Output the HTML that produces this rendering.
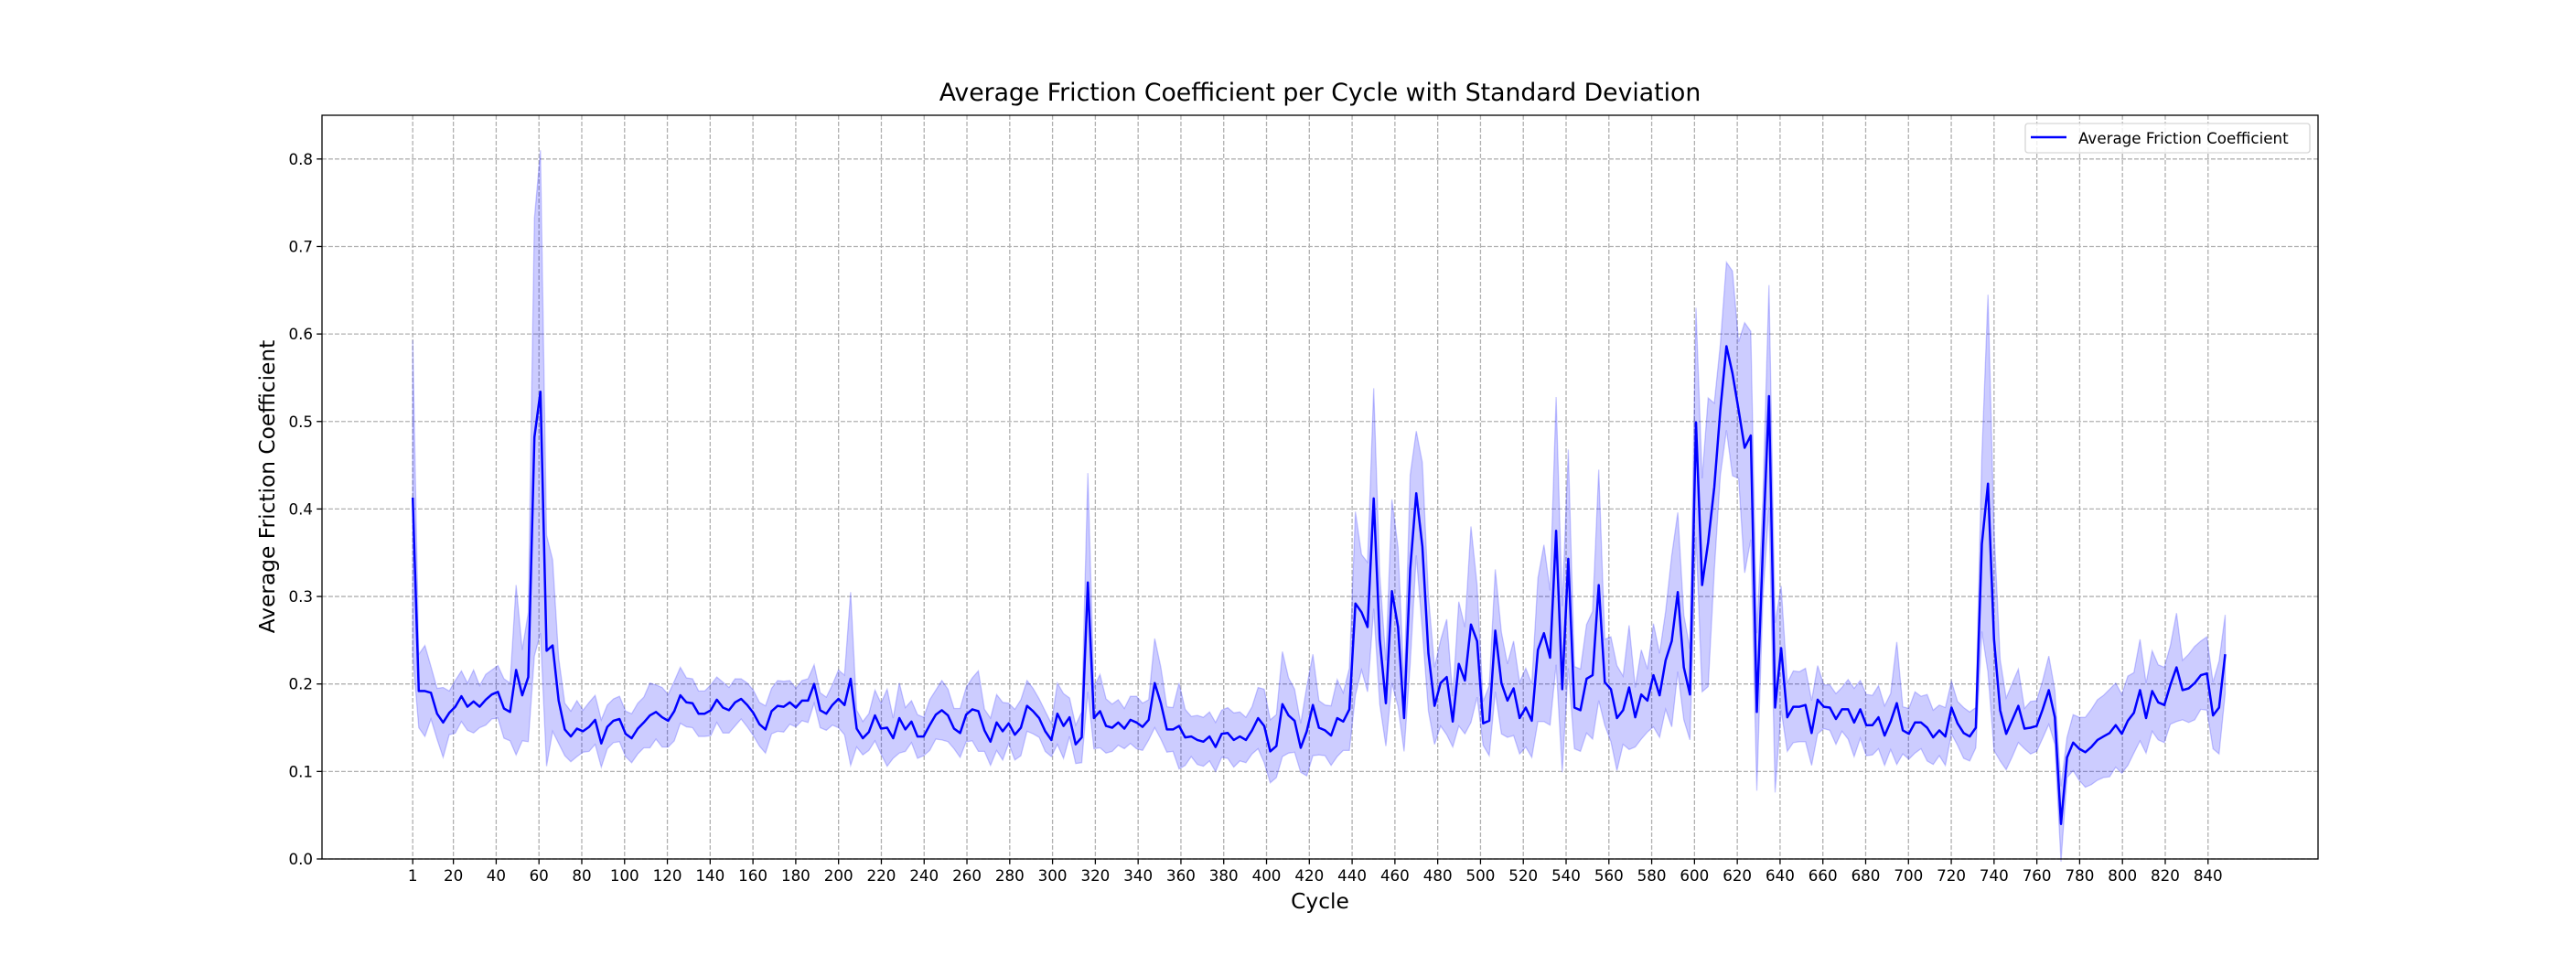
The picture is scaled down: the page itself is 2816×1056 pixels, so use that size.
<!DOCTYPE html>
<html><head><meta charset="utf-8"><style>
html,body{margin:0;padding:0;background:#fff;}
svg{display:block;font-family:"DejaVu Sans","Liberation Sans",sans-serif;}
</style></head><body>
<svg id="chart" width="2816" height="1056" viewBox="0 0 2816 1056" xmlns="http://www.w3.org/2000/svg">
<rect width="2816" height="1056" fill="#fff"/>
<g id="grid"></g>
<g id="band"></g>
<g id="series"></g>
<g id="axes"></g>
<text x="1443" y="110" text-anchor="middle" font-size="26.7">Average Friction Coefficient per Cycle with Standard Deviation</text>
<text x="1443" y="993" text-anchor="middle" font-size="23.3">Cycle</text>
<text transform="translate(300,532) rotate(-90)" text-anchor="middle" font-size="23.3">Average Friction Coefficient</text>
<g>
<rect x="2214" y="135" width="311" height="32" rx="3" fill="#fff" fill-opacity="0.8" stroke="#d6d6d6" stroke-width="1.3"/>
<line x1="2220" y1="150" x2="2259" y2="150" stroke="#0000ff" stroke-width="2.5"/>
<text x="2272" y="157" font-size="16.7">Average Friction Coefficient</text>
</g>
</svg>
<script>
const meanValues=[.413,.192,.192,.19,.166,.156,.167,.174,.186,.174,.18,.174,.182,.188,.191,.172,.168,.216,.187,.208,.482,.534,.238,.244,.181,.148,.14,.149,.146,.151,.159,.132,.151,.158,.16,.143,.138,.149,
.156,.164,.168,.162,.158,.169,.187,.179,.178,.166,.166,.170,.182,.173,.170,.179,.183,.176,.167,.154,.148,.169,.175,.174,.179,.173,.181,.181,.200,.170,.166,.176,.183,.176,.206,.149,.138,.145,.164,
.149,.150,.138,.161,.148,.157,.140,.140,.153,.165,.170,.164,.149,.144,.165,.171,.169,.147,.134,.156,.146,.155,.142,.150,.175,.169,.161,.146,.136,.166,.152,.162,.131,.139,.316,.161,.169,.152,.150,
.156,.149,.159,.156,.151,.159,.201,.178,.148,.148,.152,.139,.140,.136,.134,.140,.128,.143,.144,.136,.140,.136,.147,.161,.152,.123,.129,.177,.164,.158,.127,.146,.176,.150,.147,.141,.161,.157,.171,
.292,.282,.265,.412,.251,.178,.306,.265,.161,.331,.418,.357,.235,.175,.201,.208,.157,.223,.204,.268,.249,.155,.158,.261,.201,.181,.195,.161,.173,.158,.239,.258,.230,.375,.194,.343,.173,.170,
.206,.210,.313,.202,.194,.161,.170,.196,.162,.188,.181,.210,.187,.227,.249,.305,.219,.188,.499,.313,.362,.425,.513,.586,.555,.513,.470,.484,.168,.357,.529,.173,.241,.162,.174,.174,.176,.144,.182,.174,
.173,.160,.171,.171,.156,.171,.153,.153,.162,.141,.157,.178,.147,.143,.156,.156,.150,.139,.147,.140,.173,.155,.144,.140,.150,.360,.429,.251,.170,.143,.159,.175,.149,.150,.152,.171,.193,.162,.040,
.116,.133,.126,.122,.128,.136,.140,.144,.153,.143,.158,.167,.193,.161,.192,.179,.176,.199,.219,.193,.195,.201,.210,.212,.164,.173,.234];
const stdValues=[.18,.042,.052,.03,.029,.04,.025,.03,.029,.027,.036,.024,.029,.028,.03,.034,.033,.097,.052,.074,.25,.276,.132,.098,.049,.03,.029,.032,.024,.028,.028,.027,.025,.025,.026,.026,.028,.029,
.029,.037,.031,.034,.030,.034,.032,.028,.028,.026,.026,.029,.026,.029,.026,.027,.023,.025,.026,.025,.027,.026,.029,.029,.025,.022,.023,.025,.022,.020,.019,.023,.033,.034,.099,.021,.019,.021,.029,
.029,.044,.023,.040,.025,.024,.025,.022,.029,.028,.034,.030,.023,.028,.031,.036,.046,.024,.027,.032,.033,.023,.029,.032,.029,.026,.022,.023,.019,.035,.037,.022,.022,.029,.125,.035,.042,.031,.027,
.026,.023,.027,.030,.027,.023,.051,.041,.026,.025,.049,.032,.023,.028,.028,.028,.028,.027,.029,.031,.028,.026,.027,.035,.042,.036,.036,.060,.043,.036,.028,.051,.058,.031,.029,.034,.044,.033,.047,
.105,.066,.074,.126,.074,.049,.105,.091,.038,.108,.071,.096,.066,.044,.049,.066,.029,.071,.061,.112,.064,.025,.040,.070,.058,.042,.054,.041,.045,.042,.082,.101,.077,.153,.095,.125,.047,.047,
.062,.073,.132,.049,.060,.060,.039,.071,.034,.051,.036,.059,.048,.056,.098,.091,.060,.052,.131,.122,.165,.096,.075,.096,.117,.078,.143,.119,.090,.057,.127,.097,.071,.039,.041,.040,.042,.037,.039,.025,
.026,.029,.025,.034,.039,.033,.035,.034,.036,.034,.032,.070,.027,.029,.035,.030,.038,.031,.029,.033,.030,.025,.029,.028,.023,.100,.216,.127,.058,.041,.042,.042,.023,.030,.029,.033,.039,.031,.043,
.023,.032,.036,.040,.043,.046,.047,.050,.048,.045,.051,.046,.058,.040,.046,.043,.043,.045,.062,.034,.039,.042,.039,.042,.038,.053,.045];
const firstCycle=1, lastCycle=848;
const xTickLabels=[1,20,40,60,80,100,120,140,160,180,200,220,240,260,280,300,320,340,360,380,400,420,440,460,480,500,520,540,560,580,600,620,640,660,680,700,720,740,760,780,800,820,840];
const yTickLabels=["0.0","0.1","0.2","0.3","0.4","0.5","0.6","0.7","0.8"];

const NS="http://www.w3.org/2000/svg";
const L=352,R=2534,T=126,B=939;
const xMin=-41.4,xMax=891.4,yMin=0,yMax=0.85;
const sx=v=>L+(v-xMin)/(xMax-xMin)*(R-L);
const sy=v=>B-(v-yMin)/(yMax-yMin)*(B-T);
const N=meanValues.length;
const cycles=meanValues.map((_,i)=>firstCycle+i*(lastCycle-firstCycle)/(N-1));
function mk(tag,attrs,parent){const e=document.createElementNS(NS,tag);for(const k in attrs)e.setAttribute(k,attrs[k]);parent.appendChild(e);return e;}
const grid=document.getElementById('grid'),axes=document.getElementById('axes');
xTickLabels.forEach(t=>{
  const x=sx(t);
  const g=mk('line',{x1:x,x2:x,y1:T,y2:B,stroke:'#b0b0b0','stroke-width':1.3,'stroke-dasharray':'4.9,2.1'},grid);
  
  
  const tk=mk('line',{x1:x,x2:x,y1:B,y2:B+5.8,stroke:'#000','stroke-width':1.3},axes);
  
  
  const tx=mk('text',{x:x,y:B+24,'text-anchor':'middle','font-size':16.7},axes);
  tx.textContent=t;
  
  
});
yTickLabels.forEach(t=>{
  const y=sy(parseFloat(t));
  const g=mk('line',{x1:L,x2:R,y1:y,y2:y,stroke:'#b0b0b0','stroke-width':1.3,'stroke-dasharray':'4.9,2.1'},grid);
  
  
  const tk=mk('line',{x1:L-5.8,x2:L,y1:y,y2:y,stroke:'#000','stroke-width':1.3},axes);
  
  
  const tx=mk('text',{x:L-10,y:y+6,'text-anchor':'end','font-size':16.7},axes);
  tx.textContent=t;
  
  
});
const frame=mk('rect',{x:L,y:T,width:R-L,height:B-T,fill:'none',stroke:'#000','stroke-width':1.3},axes);


let up=[],lo=[];
for(let i=0;i<N;i++){up.push(sx(cycles[i]).toFixed(1)+','+sy(meanValues[i]+stdValues[i]).toFixed(1));lo.push(sx(cycles[i]).toFixed(1)+','+sy(meanValues[i]-stdValues[i]).toFixed(1));}
const band=mk('polygon',{points:up.concat(lo.reverse()).join(' '),fill:'#0000ff','fill-opacity':0.2,stroke:'#0000ff','stroke-opacity':0.2,'stroke-width':1.3},document.getElementById('band'));


const pts=cycles.map((c,i)=>sx(c).toFixed(1)+','+sy(meanValues[i]).toFixed(1)).join(' ');
const line=mk('polyline',{points:pts,fill:'none',stroke:'#0000ff','stroke-width':2.5,'stroke-linejoin':'round'},document.getElementById('series'));


</script>
</body></html>
